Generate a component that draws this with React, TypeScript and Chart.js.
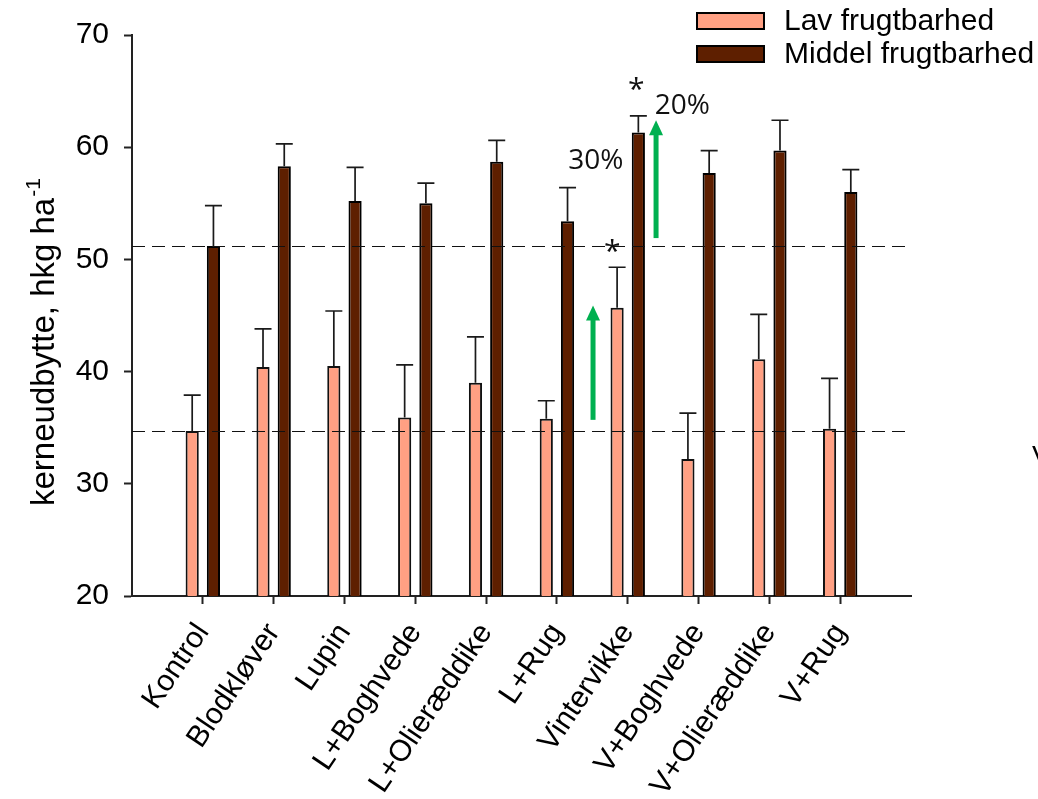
import React, { useEffect, useRef } from 'react';
import { Chart, registerables } from 'chart.js';

Chart.register(...registerables);

// ---------- data ----------
const categories = [
  'Kontrol',
  'Blodkløver',
  'Lupin',
  'L+Boghvede',
  'L+Olieræddike',
  'L+Rug',
  'Vintervikke',
  'V+Boghvede',
  'V+Olieræddike',
  'V+Rug',
];
const seriesNames = ['Lav frugtbarhed', 'Middel frugtbarhed'];
const lavValues = [34.7, 40.4, 40.5, 35.9, 39.0, 35.8, 45.7, 32.2, 41.1, 34.9];
const lavErrors = [3.2, 3.4, 4.9, 4.7, 4.1, 1.6, 3.6, 4.1, 4.0, 4.5];
const middelValues = [51.2, 58.3, 55.2, 55.0, 58.7, 53.4, 61.3, 57.7, 59.7, 56.0];
const middelErrors = [3.6, 2.0, 3.0, 1.8, 1.9, 3.0, 1.5, 2.0, 2.7, 2.0];
const yMin = 20;
const yMax = 70;
const yStep = 10;
const referenceLines = [34.7, 51.2];
// arrows: x as category position, from/to in y values
const arrowX = [6.51, 7.4];
const arrowFrom = [35.7, 51.9];
const arrowTo = [45.9, 62.4];
// notes (text annotations)
const noteTexts = ['*', '*', '30%', '20%'];
const noteX = [6.78, 7.12, 6.55, 7.77];
const noteY = [49.9, 64.3, 58.06, 63.0];
const yTitle = 'kerneudbytte, hkg ha';
const yTitleSup = '-1';

// ---------- styles ----------
const FONT = '"Liberation Sans", Arial, sans-serif';
const NOTE_FONT = '"Open Sans", "Noto Sans", sans-serif';
const LAV_COLOR = '#FFA083';
const MIDDEL_COLOR = '#5E1F00';
const ARROW_COLOR = '#00B050';
const AXIS_COLOR = '#222222';

const xLabels = ['', ...categories, ''];
const pad = (arr: number[]) => [null, ...arr, null];

const errorBarPlugin = {
  id: 'errorBars',
  afterDatasetsDraw(chart: any) {
    const ctx = chart.ctx;
    const yScale = chart.scales.y;
    const errs = [lavErrors, middelErrors];
    const vals = [lavValues, middelValues];
    ctx.save();
    ctx.strokeStyle = '#1a1a1a';
    ctx.lineWidth = 1.7;
    chart.data.datasets.forEach((ds: any, di: number) => {
      const meta = chart.getDatasetMeta(di);
      meta.data.forEach((el: any, i: number) => {
        const ci = i - 1;
        if (ci < 0 || ci >= categories.length) return;
        const v = vals[di][ci];
        const e = errs[di][ci];
        const x = el.x;
        const yBar = yScale.getPixelForValue(v);
        const yTop = yScale.getPixelForValue(v + e);
        ctx.beginPath();
        ctx.moveTo(x, yBar);
        ctx.lineTo(x, yTop);
        ctx.moveTo(x - 8.5, yTop);
        ctx.lineTo(x + 8.5, yTop);
        ctx.stroke();
      });
    });
    ctx.restore();
  },
};

const annotationPlugin = {
  id: 'annots',
  afterDatasetsDraw(chart: any) {
    const ctx = chart.ctx;
    const xs = chart.scales.x;
    const ys = chart.scales.y;
    const area = chart.chartArea;
    ctx.save();
    // reference dashed lines
    ctx.strokeStyle = '#111';
    ctx.lineWidth = 1.2;
    ctx.setLineDash([13, 7]);
    referenceLines.forEach((v) => {
      const y = Math.round(ys.getPixelForValue(v)) + 0.5;
      ctx.beginPath();
      ctx.moveTo(area.left, y);
      ctx.lineTo(area.right, y);
      ctx.stroke();
    });
    ctx.setLineDash([]);
    // arrows
    ctx.strokeStyle = ARROW_COLOR;
    ctx.fillStyle = ARROW_COLOR;
    arrowX.forEach((ax, i) => {
      const x = xs.getPixelForValue(ax);
      const y0 = ys.getPixelForValue(arrowFrom[i]);
      const y1 = ys.getPixelForValue(arrowTo[i]);
      const headH = 15;
      ctx.lineWidth = 5;
      ctx.beginPath();
      ctx.moveTo(x, y0);
      ctx.lineTo(x, y1 + headH - 1);
      ctx.stroke();
      ctx.beginPath();
      ctx.moveTo(x, y1);
      ctx.lineTo(x - 7, y1 + headH);
      ctx.lineTo(x + 7, y1 + headH);
      ctx.closePath();
      ctx.fill();
    });
    // notes
    ctx.fillStyle = '#111';
    ctx.textAlign = 'center';
    ctx.textBaseline = 'alphabetic';
    noteTexts.forEach((t, i) => {
      ctx.font = `${t === '*' ? 30 : 28}px ${NOTE_FONT}`;
      ctx.fillText(t, xs.getPixelForValue(noteX[i]), ys.getPixelForValue(noteY[i]));
    });
    ctx.restore();
  },
};

const decorPlugin = {
  id: 'decor',
  afterDraw(chart: any) {
    const ctx = chart.ctx;
    ctx.save();
    // legend
    const colors = [LAV_COLOR, MIDDEL_COLOR];
    ctx.font = `30px ${FONT}`;
    ctx.textBaseline = 'middle';
    ctx.textAlign = 'left';
    seriesNames.forEach((name, i) => {
      const top = 13 + i * 33;
      ctx.fillStyle = colors[i];
      ctx.fillRect(697, top, 67, 16);
      ctx.strokeStyle = '#000';
      ctx.lineWidth = 2;
      ctx.strokeRect(697, top, 67, 16);
      ctx.fillStyle = '#000';
      ctx.fillText(name, 784, top + 9);
    });
    // y title with superscript
    ctx.translate(54, 506);
    ctx.rotate(-Math.PI / 2);
    ctx.textBaseline = 'alphabetic';
    ctx.font = `33px ${FONT}`;
    ctx.fillText(yTitle, 0, 0);
    const w = ctx.measureText(yTitle).width;
    ctx.font = `21px ${FONT}`;
    ctx.fillText(yTitleSup, w + 1, -14);
    ctx.restore();
    // clipped letter at right edge
    ctx.save();
    ctx.font = `28px ${FONT}`;
    ctx.fillStyle = '#000';
    ctx.textBaseline = 'alphabetic';
    ctx.textAlign = 'left';
    ctx.fillText('V', 1032, 465);
    ctx.restore();
  },
};

export default function App() {
  const ref = useRef<HTMLCanvasElement | null>(null);
  useEffect(() => {
    if (!ref.current) return;
    const chart = new Chart(ref.current, {
      type: 'bar',
      data: {
        labels: xLabels,
        datasets: [
          {
            label: seriesNames[0],
            data: pad(lavValues) as any,
            backgroundColor: LAV_COLOR,
            borderColor: '#111',
            borderWidth: 2,
            borderSkipped: false,
            categoryPercentage: 0.6,
            barPercentage: 0.62,
          },
          {
            label: seriesNames[1],
            data: pad(middelValues) as any,
            backgroundColor: MIDDEL_COLOR,
            borderColor: '#000',
            borderWidth: 2,
            borderSkipped: false,
            categoryPercentage: 0.6,
            barPercentage: 0.62,
          },
        ],
      },
      options: {
        animation: false,
        responsive: false,
        layout: { padding: { top: 35, right: 127, left: 0, bottom: 0 } },
        plugins: {
          legend: { display: false },
          tooltip: { enabled: false },
          title: { display: false },
        },
        scales: {
          x: {
            type: 'category',
            offset: false,
            border: { display: true, color: AXIS_COLOR, width: 2 },
            grid: {
              display: true,
              offset: false,
              drawOnChartArea: false,
              drawTicks: true,
              tickLength: 8,
              tickWidth: 2,
              tickColor: (c: any) =>
                c.index === 0 || c.index === xLabels.length - 1 ? 'rgba(0,0,0,0)' : AXIS_COLOR,
            },
            ticks: {
              autoSkip: false,
              maxRotation: 56,
              minRotation: 56,
              color: '#000',
              padding: 13,
              font: { family: FONT, size: 30 },
            },
            afterFit: (s: any) => {
              s.height = 203;
            },
          },
          y: {
            min: yMin,
            max: yMax,
            border: { display: true, color: AXIS_COLOR, width: 2 },
            grid: {
              display: true,
              drawOnChartArea: false,
              drawTicks: true,
              tickLength: 8,
              tickWidth: 2,
              tickColor: AXIS_COLOR,
            },
            ticks: {
              stepSize: yStep,
              color: '#000',
              padding: 15,
              font: { family: FONT, size: 30 },
            },
            afterFit: (s: any) => {
              s.width = 132;
            },
          },
        },
      },
      plugins: [errorBarPlugin, annotationPlugin, decorPlugin],
    });
    return () => chart.destroy();
  }, []);
  return (
    <div style={{ position: 'absolute', left: 0, top: 0, width: 1038, height: 799, background: '#fff' }}>
      <canvas ref={ref} width={1038} height={799} style={{ display: 'block' }} />
    </div>
  );
}
